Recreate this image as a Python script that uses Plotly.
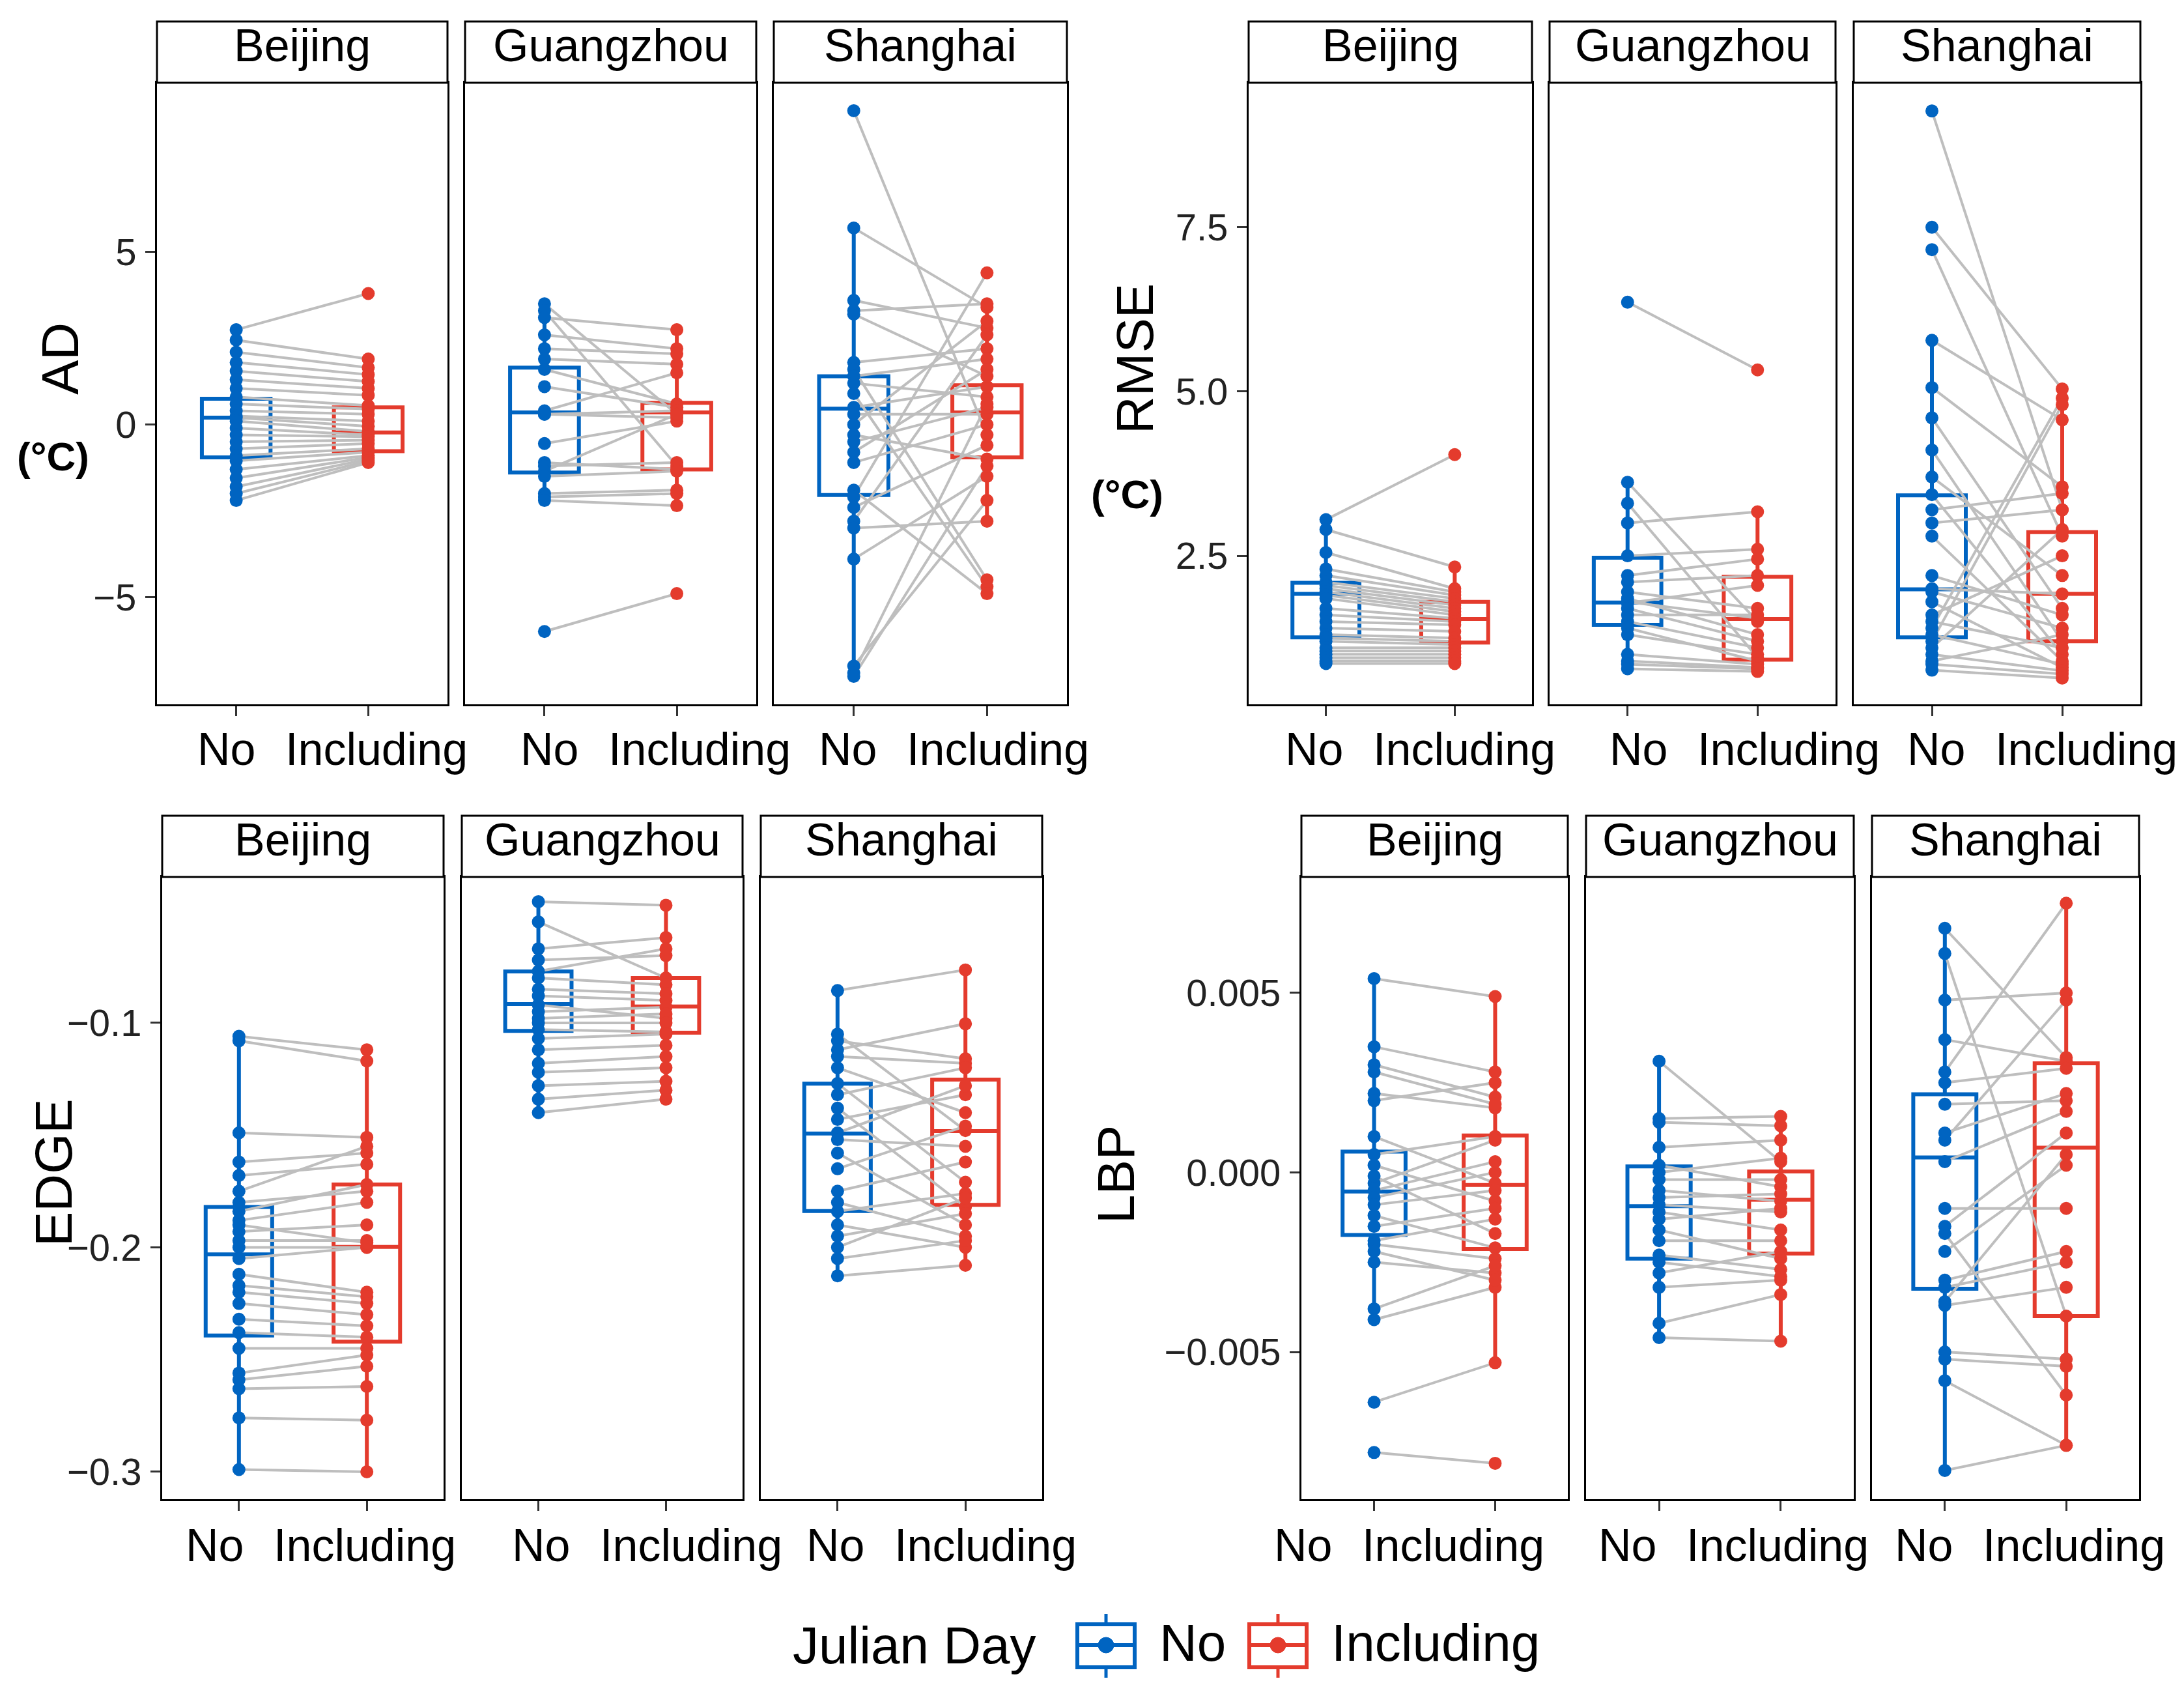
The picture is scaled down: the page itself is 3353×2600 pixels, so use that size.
import plotly.graph_objects as go

W, H = 3353, 2600          # browser window / reference size (pixels)
M = 8                      # default page margin around the plot div
FW, FH = W - 2 * M, H - 2 * M

categories = ["No", "Including"]
cities = ["Beijing", "Guangzhou", "Shanghai"]
metrics = ["AD", "RMSE", "EDGE", "LBP"]
legend_title = "Julian Day"

# ---------------- data ----------------
ad_beijing_no = [2.75, 2.45, 2.1, 1.8, 1.55, 1.3, 1.05, 0.8, 0.6, 0.4, 0.25, 0.2, 0.1, -0.1, -0.3, -0.5, -0.7, -0.9, -1.05, -1.3, -1.55, -1.8, -2.0, -2.2]
ad_beijing_inc = [3.8, 1.9, 1.65, 1.45, 1.25, 1.05, 0.85, 0.55, 0.45, 0.3, 0.1, -0.05, -0.2, -0.3, -0.35, -0.45, -0.55, -0.7, -0.8, -0.9, -0.95, -1.0, -1.05, -1.1]
ad_guangzhou_no = [3.5, 3.3, 3.1, 2.6, 2.2, 1.9, 1.6, 1.1, 0.4, 0.3, 0.3, -0.55, -1.1, -1.2, -1.35, -1.5, -2.0, -2.1, -2.2, -6.0]
ad_guangzhou_inc = [0.3, -1.2, 2.75, 2.2, 2.05, 1.75, 0.6, 0.5, 1.5, 0.4, 0.2, 0.1, -1.3, -1.1, 0.3, -1.35, -1.9, -2.0, -2.35, -4.9]
ad_shanghai_no = [9.1, 5.7, 3.6, 3.3, 1.8, 1.6, 1.4, 1.2, 0.9, 0.5, 0.3, -0.3, -0.5, -0.8, -1.1, -1.9, -2.1, -2.4, -2.8, -3.0, -3.9, -7.0, -7.2, -7.3, 0.0, 3.2]
ad_shanghai_inc = [-0.3, 3.4, 2.8, 3.5, 2.2, -4.5, 1.9, 0.8, -4.7, 1.1, 0.3, -1.0, 0.5, 1.6, 0.0, -4.9, 4.4, -0.6, 2.6, -2.8, -1.5, -2.2, 0.6, -1.2, 3.0, 1.4]

rmse_beijing_no = [3.05, 2.9, 2.55, 2.3, 2.2, 2.1, 2.05, 2.0, 1.95, 1.9, 1.85, 1.7, 1.6, 1.5, 1.4, 1.3, 1.25, 1.2, 1.1, 1.05, 1.0, 0.95, 0.9, 0.86]
rmse_beijing_inc = [4.04, 2.33, 2.0, 1.95, 1.9, 1.85, 1.8, 1.75, 1.7, 1.65, 1.6, 1.55, 1.5, 1.45, 1.35, 1.25, 1.2, 1.15, 1.1, 1.05, 1.0, 0.95, 0.9, 0.86]
rmse_guangzhou_no = [6.36, 3.62, 3.3, 3.0, 2.5, 2.2, 2.1, 1.95, 1.85, 1.8, 1.78, 1.7, 1.6, 1.5, 1.4, 1.3, 1.0, 0.9, 0.85, 0.78]
rmse_guangzhou_inc = [5.33, 1.5, 0.95, 3.17, 2.6, 2.45, 2.2, 1.7, 1.3, 1.55, 2.05, 1.2, 1.6, 1.1, 0.9, 1.0, 0.85, 0.8, 0.78, 0.74]
rmse_shanghai_no = [9.27, 7.5, 7.16, 5.78, 5.06, 4.6, 4.11, 3.7, 3.43, 3.2, 3.0, 2.8, 2.0, 1.95, 1.8, 1.6, 1.5, 1.4, 1.3, 1.2, 1.1, 1.0, 0.9, 0.85, 0.76, 2.2]
rmse_shanghai_inc = [3.2, 5.04, 2.8, 4.57, 3.55, 1.7, 1.2, 2.2, 1.0, 3.45, 3.2, 0.9, 1.92, 1.4, 0.8, 2.5, 1.1, 4.9, 0.85, 4.8, 2.9, 0.75, 1.3, 0.7, 0.64, 1.6]

edge_beijing_no = [-0.106, -0.108, -0.149, -0.162, -0.168, -0.175, -0.18, -0.184, -0.188, -0.193, -0.197, -0.2, -0.205, -0.212, -0.217, -0.22, -0.225, -0.232, -0.238, -0.256, -0.259, -0.263, -0.276, -0.299, -0.245, -0.19]
edge_beijing_inc = [-0.112, -0.117, -0.151, -0.158, -0.163, -0.155, -0.175, -0.172, -0.18, -0.19, -0.197, -0.2, -0.2, -0.22, -0.222, -0.225, -0.23, -0.235, -0.24, -0.248, -0.253, -0.262, -0.277, -0.3, -0.245, -0.198]
edge_guangzhou_no = [-0.046, -0.055, -0.067, -0.072, -0.077, -0.08, -0.085, -0.088, -0.092, -0.095, -0.098, -0.1, -0.103, -0.107, -0.112, -0.118, -0.122, -0.128, -0.134, -0.14]
edge_guangzhou_inc = [-0.0476, -0.08, -0.062, -0.07, -0.067, -0.083, -0.087, -0.09, -0.098, -0.093, -0.096, -0.1, -0.104, -0.105, -0.11, -0.115, -0.12, -0.126, -0.13, -0.134]
edge_shanghai_no = [-0.0856, -0.105, -0.108, -0.112, -0.115, -0.12, -0.127, -0.132, -0.138, -0.143, -0.149, -0.152, -0.158, -0.165, -0.175, -0.18, -0.184, -0.19, -0.195, -0.2, -0.205, -0.2127]
edge_shanghai_inc = [-0.0764, -0.148, -0.116, -0.1004, -0.118, -0.14, -0.171, -0.12, -0.182, -0.132, -0.128, -0.155, -0.19, -0.146, -0.162, -0.195, -0.176, -0.2, -0.185, -0.178, -0.197, -0.208]

lbp_beijing_no = [0.0054, 0.0035, 0.0030, 0.0022, 0.0020, 0.0010, 0.0005, 0.0002, -0.0003, -0.0005, -0.0007, -0.0009, -0.0012, -0.0015, -0.0019, -0.0020, -0.0025, -0.0038, -0.0041, -0.0064, -0.0078, 0.0028, -0.0001, -0.0022]
lbp_beijing_inc = [0.0049, 0.0028, 0.0021, 0.0018, 0.0025, -0.0003, 0.0010, -0.0008, 0.0009, 0.0003, 0.0000, -0.0005, -0.0021, -0.0010, -0.0013, -0.0024, -0.0028, -0.0026, -0.0032, -0.0053, -0.0081, 0.0019, -0.0017, -0.0030]
lbp_guangzhou_no = [0.0031, 0.0015, 0.0014, 0.0007, 0.0002, 0.0000, -0.0002, -0.0005, -0.0007, -0.0009, -0.0011, -0.0013, -0.0016, -0.0019, -0.0023, -0.0025, -0.0032, -0.0042, -0.0046, -0.0028]
lbp_guangzhou_inc = [0.0003, 0.00156, 0.0013, 0.0009, -0.0004, 0.0004, -0.0002, -0.0008, -0.0006, -0.0011, -0.0016, -0.0010, -0.0024, -0.0019, -0.0027, -0.0029, -0.0030, -0.0034, -0.0047, -0.0022]
lbp_shanghai_no = [0.0068, 0.0061, 0.0048, 0.0037, 0.0028, 0.0025, 0.0019, 0.0011, 0.0009, 0.0003, -0.0015, -0.0017, -0.0022, -0.0030, -0.0032, -0.0037, -0.0050, -0.0052, -0.0058, -0.0083, -0.0010, -0.0036]
lbp_shanghai_inc = [0.0032, -0.0040, 0.0050, 0.0031, 0.0075, 0.0029, 0.0020, 0.0022, 0.0048, 0.0017, 0.0011, -0.0062, 0.0002, -0.0022, -0.0025, -0.0032, -0.0052, -0.0054, -0.0076, -0.0076, -0.0010, 0.0005]

# box statistics: [lower whisker, Q1, median, Q3, upper whisker]
ad_beijing_box_no = [-2.2, -0.95, 0.2, 0.75, 2.75]
ad_beijing_box_inc = [-1.1, -0.77, -0.23, 0.5, 1.9]
ad_guangzhou_box_no = [-2.2, -1.39, 0.35, 1.65, 3.5]
ad_guangzhou_box_inc = [-2.35, -1.3, 0.35, 0.63, 2.75]
ad_shanghai_box_no = [-7.3, -2.04, 0.46, 1.4, 5.7]
ad_shanghai_box_inc = [-2.8, -0.95, 0.35, 1.14, 3.5]

rmse_beijing_box_no = [0.86, 1.26, 1.92, 2.09, 3.05]
rmse_beijing_box_inc = [0.86, 1.18, 1.54, 1.8, 2.33]
rmse_guangzhou_box_no = [0.78, 1.45, 1.79, 2.47, 3.62]
rmse_guangzhou_box_inc = [0.74, 0.92, 1.54, 2.18, 3.17]
rmse_shanghai_box_no = [0.76, 1.26, 1.99, 3.42, 5.78]
rmse_shanghai_box_inc = [0.64, 1.2, 1.92, 2.86, 5.04]

edge_beijing_box_no = [-0.299, -0.2393, -0.2031, -0.182, -0.106]
edge_beijing_box_inc = [-0.3, -0.242, -0.1998, -0.172, -0.112]
edge_guangzhou_box_no = [-0.14, -0.1036, -0.0916, -0.0771, -0.046]
edge_guangzhou_box_inc = [-0.134, -0.1044, -0.0927, -0.08, -0.0476]
edge_shanghai_box_no = [-0.2127, -0.1838, -0.1493, -0.1271, -0.0856]
edge_shanghai_box_inc = [-0.208, -0.1811, -0.1482, -0.1253, -0.0764]

lbp_beijing_box_no = [-0.0041, -0.00174, -0.00053, 0.00058, 0.0054]
lbp_beijing_box_inc = [-0.0053, -0.00213, -0.00035, 0.00103, 0.0049]
lbp_guangzhou_box_no = [-0.0046, -0.0024, -0.00094, 0.00017, 0.0031]
lbp_guangzhou_box_inc = [-0.0047, -0.00226, -0.00076, 0.00003, 0.00156]
lbp_shanghai_box_no = [-0.0083, -0.00324, 0.00042, 0.00218, 0.0068]
lbp_shanghai_box_inc = [-0.0076, -0.004, 0.00069, 0.00304, 0.0075]

# axis ticks
ad_tickvals = [-5, 0, 5]
ad_ticktext = ["\u22125", "0", "5"]
rmse_tickvals = [2.5, 5.0, 7.5]
rmse_ticktext = ["2.5", "5.0", "7.5"]
edge_tickvals = [-0.3, -0.2, -0.1]
edge_ticktext = ["\u22120.3", "\u22120.2", "\u22120.1"]
lbp_tickvals = [-0.005, 0.0, 0.005]
lbp_ticktext = ["\u22120.005", "0.000", "0.005"]

# ---------------- assemble ----------------
G = globals()
BLUE = "#0064C1"
RED = "#E43B2D"
GREY = "#BEBEBE"
FONT = "Liberation Sans, Arial, sans-serif"

# layout geometry in window pixels
panel_x = {
    "AD": [(241, 687), (714, 1161), (1188, 1638)],
    "RMSE": [(1917, 2352), (2379, 2818), (2846, 3286)],
    "EDGE": [(249, 681), (709, 1140), (1168, 1600)],
    "LBP": [(1998, 2407), (2435, 2846), (2874, 3284)],
}
panel_y = {"AD": (127, 1081), "RMSE": (127, 1081), "EDGE": (1346, 2301), "LBP": (1346, 2301)}
label_gap_x = {
    "AD": [415, 911, 1369], "RMSE": [2085, 2583, 3040],
    "EDGE": [397, 898, 1350], "LBP": [2068, 2566, 3021],
}
label_y = {"AD": 1150, "RMSE": 1150, "EDGE": 2372, "LBP": 2372}
strip_h = 94
yranges = {"AD": [-8.11, 9.91], "RMSE": [0.24, 9.70], "EDGE": [-0.3122, -0.035], "LBP": [-0.0091, 0.00823]}
ytitle = {
    "AD": (92, 551, "AD"), "RMSE": (1742, 551, "RMSE"),
    "EDGE": (82, 1800, "EDGE"), "LBP": (1713, 1803, "LBP"),
}
unit_pos = {"AD": (81, 700), "RMSE": (1730, 758)}


def fx(s):
    return (s - M) / FW


def fy(s):
    return 1 - (s - M) / FH


fig = go.Figure()
layout = dict(
    width=FW, height=FH, margin=dict(l=0, r=0, t=0, b=0),
    paper_bgcolor="white", plot_bgcolor="white", showlegend=False,
    font=dict(family=FONT, color="black"),
)
shapes = []
annotations = []

k = 0
for m in metrics:
    key = m.lower()
    yt, yb = panel_y[m]
    for j, city in enumerate(cities):
        k += 1
        xs, ys = f"x{k}", f"y{k}"
        cname = city.lower()
        no_vals = G[f"{key}_{cname}_no"]
        inc_vals = G[f"{key}_{cname}_inc"]
        for cat, box, col in [("No", G[f"{key}_{cname}_box_no"], BLUE),
                              ("Including", G[f"{key}_{cname}_box_inc"], RED)]:
            fig.add_trace(go.Box(
                x=[cat], lowerfence=[box[0]], q1=[box[1]], median=[box[2]],
                q3=[box[3]], upperfence=[box[4]], width=0.52, whiskerwidth=0,
                boxpoints=False, line=dict(color=col, width=6),
                fillcolor="rgba(255,255,255,0)", xaxis=xs, yaxis=ys, hoverinfo="skip",
            ))
        lx, ly = [], []
        for a, b in zip(no_vals, inc_vals):
            lx += ["No", "Including", None]
            ly += [a, b, None]
        fig.add_trace(go.Scatter(x=lx, y=ly, mode="lines",
                                 line=dict(color=GREY, width=4),
                                 xaxis=xs, yaxis=ys, hoverinfo="skip"))
        fig.add_trace(go.Scatter(x=["No"] * len(no_vals), y=no_vals, mode="markers",
                                 marker=dict(color=BLUE, size=20), xaxis=xs, yaxis=ys))
        fig.add_trace(go.Scatter(x=["Including"] * len(inc_vals), y=inc_vals, mode="markers",
                                 marker=dict(color=RED, size=20), xaxis=xs, yaxis=ys))

        x0, x1 = panel_x[m][j]
        layout[f"xaxis{k}"] = dict(
            domain=[fx(x0), fx(x1)], anchor=ys, type="category",
            categoryorder="array", categoryarray=categories, range=[-0.6, 1.6],
            showline=True, mirror=True, linecolor="black", linewidth=3,
            ticks="outside", ticklen=15, tickwidth=3, tickcolor="#333333",
            showticklabels=False, showgrid=False, zeroline=False,
        )
        layout[f"yaxis{k}"] = dict(
            domain=[fy(yb), fy(yt)], anchor=xs, range=yranges[m],
            showline=True, mirror=True, linecolor="black", linewidth=3,
            showgrid=False, zeroline=False,
            tickvals=G[f"{key}_tickvals"], ticktext=G[f"{key}_ticktext"],
            ticks="outside" if j == 0 else "", ticklen=15, tickwidth=3, tickcolor="#333333",
            showticklabels=(j == 0), ticklabelstandoff=2,
            tickfont=dict(size=58, color="#222222", family=FONT),
        )
        # category labels under the panel
        gx = label_gap_x[m][j]
        annotations.append(dict(text=categories[0], xref="paper", yref="paper",
                                x=fx(gx - 21), y=fy(label_y[m]), showarrow=False,
                                xanchor="right", yanchor="middle",
                                font=dict(size=70, color="black", family=FONT)))
        annotations.append(dict(text=categories[1], xref="paper", yref="paper",
                                x=fx(gx + 21), y=fy(label_y[m]), showarrow=False,
                                xanchor="left", yanchor="middle",
                                font=dict(size=70, color="black", family=FONT)))
        # strip
        shapes.append(dict(type="rect", xref="paper", yref="paper",
                           x0=fx(x0), x1=fx(x1), y0=fy(yt), y1=fy(yt - strip_h),
                           line=dict(color="black", width=3), fillcolor="white"))
        annotations.append(dict(text=city, xref="paper", yref="paper",
                                x=fx((x0 + x1) / 2), y=fy(yt - strip_h / 2 - 10),
                                showarrow=False, xanchor="center", yanchor="middle",
                                font=dict(size=70, color="black", family=FONT)))
    tx, ty, ttext = ytitle[m]
    annotations.append(dict(text=ttext, xref="paper", yref="paper", x=fx(tx), y=fy(ty),
                            textangle=-90, showarrow=False, xanchor="center", yanchor="middle",
                            font=dict(size=80, color="black", family=FONT)))
    if m in unit_pos:
        ux, uy = unit_pos[m]
        annotations.append(dict(text="<b>(°C)</b>", xref="paper", yref="paper", x=fx(ux), y=fy(uy),
                                showarrow=False, xanchor="center", yanchor="middle",
                                font=dict(size=62, color="black", family=FONT)))

# ---------------- legend (drawn) ----------------
leg_y = 2525
annotations.append(dict(text=legend_title, xref="paper", yref="paper", x=fx(1593), y=fy(leg_y),
                        showarrow=False, xanchor="right", yanchor="middle",
                        font=dict(size=80, color="black", family=FONT)))
for cx, col, label in [(1698, BLUE, categories[0]), (1962, RED, categories[1])]:
    shapes.append(dict(type="line", xref="paper", yref="paper", x0=fx(cx), x1=fx(cx),
                       y0=fy(leg_y - 48), y1=fy(leg_y + 50), line=dict(color=col, width=5)))
    shapes.append(dict(type="rect", xref="paper", yref="paper", x0=fx(cx - 44), x1=fx(cx + 44),
                       y0=fy(leg_y - 32), y1=fy(leg_y + 34), line=dict(color=col, width=6), fillcolor="white"))
    shapes.append(dict(type="line", xref="paper", yref="paper", x0=fx(cx - 44), x1=fx(cx + 44),
                       y0=fy(leg_y), y1=fy(leg_y), line=dict(color=col, width=6)))
    shapes.append(dict(type="circle", xref="paper", yref="paper", x0=fx(cx - 12), x1=fx(cx + 12),
                       y0=fy(leg_y - 12), y1=fy(leg_y + 12), line=dict(color=col, width=1),
                       fillcolor=col))
    annotations.append(dict(text=label, xref="paper", yref="paper", x=fx(cx + 80), y=fy(leg_y - 4),
                            showarrow=False, xanchor="left", yanchor="middle",
                            font=dict(size=80, color="black", family=FONT)))

layout["shapes"] = shapes
layout["annotations"] = annotations
fig.update_layout(**layout)
fig.write_html("out.html")
